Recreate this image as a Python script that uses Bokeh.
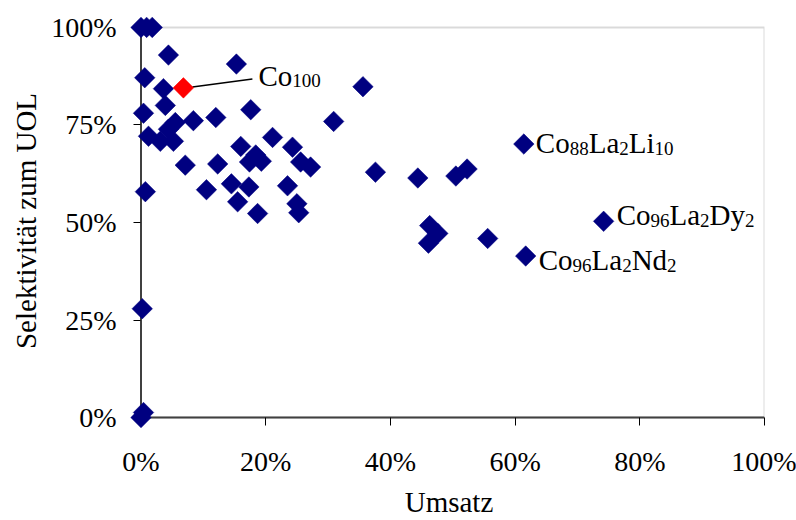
import numpy as np
from bokeh.plotting import figure
from bokeh.models import (Range1d, FixedTicker, NumeralTickFormatter, ColumnDataSource,
                          BoxAnnotation, Label, Arrow)
from bokeh.embed import file_html
from bokeh.resources import INLINE

# ---------------- data (percent) ----------------
umsatz = [0.0, 0.9, 1.8,
          4.4, 15.3,
          0.6, 3.6, 3.9, 0.4,
          5.5, 8.4, 12.0, 17.6,
          35.6, 30.9,
          1.2, 3.1, 5.2, 4.4,
          21.1, 24.3, 16.0,
          17.4, 18.4, 19.3,
          7.1, 12.3, 25.6, 27.2, 37.6,
          0.7, 10.5, 14.5, 17.3, 23.5,
          15.5, 18.7, 25.0, 25.3,
          0.2, 0.0, 0.4,
          44.4, 50.5, 52.3,
          46.3, 47.6, 46.1, 55.6,
          61.4, 74.2, 61.7]
selektivitaet = [100.0, 100.0, 100.0,
                 92.9, 90.6,
                 87.1, 84.3, 80.0, 78.0,
                 75.6, 76.1, 76.9, 78.9,
                 84.8, 75.9,
                 72.1, 70.8, 70.8, 73.9,
                 71.8, 69.3, 69.5,
                 65.5, 67.3, 65.7,
                 64.7, 65.0, 65.5, 64.2, 62.9,
                 57.9, 58.4, 59.9, 59.1, 59.4,
                 55.3, 52.3, 54.8, 52.5,
                 27.9, 0.0, 1.3,
                 61.4, 61.9, 63.7,
                 49.2, 47.2, 44.7, 45.9,
                 70.1, 50.3, 41.4]
co100_umsatz = [6.8]
co100_selektivitaet = [84.5]

x_ticks = [0, 20, 40, 60, 80, 100]
y_ticks = [0, 25, 50, 75, 100]

# labelled points: (umsatz, selektivitaet, formula parts)
label_umsatz = [61.4, 74.2, 61.7]
label_selektivitaet = [70.1, 50.3, 41.4]
label_parts = [
    [("Co", False), ("88", True), ("La", False), ("2", True), ("Li", False), ("10", True)],
    [("Co", False), ("96", True), ("La", False), ("2", True), ("Dy", False), ("2", True)],
    [("Co", False), ("96", True), ("La", False), ("2", True), ("Nd", False), ("2", True)],
]
co100_parts = [("Co", False), ("100", True)]

# ---------------- layout ----------------
FONT = "Liberation Serif"
W, H = 796, 520
BL, BR, BT, BB = 133, 32, 16, 91
UNIT_X = 623.5          # pixels for 100 %
UNIT_Y = 394.0
XPAD = (W - BL - BR) / UNIT_X - 1.0          # room left of 0 % for tick marks
YPAD_LO = 8.0 / UNIT_Y                        # room below 0 % for tick marks
YPAD_HI = (H - BT - BB) / UNIT_Y - 1.0 - YPAD_LO
NAVY = "#000080"

p = figure(width=W, height=H, output_backend="svg", toolbar_location=None,
           x_range=Range1d(-XPAD, 1.0), y_range=Range1d(-YPAD_LO, 1.0 + YPAD_HI),
           min_border_left=BL, min_border_right=BR, min_border_top=BT, min_border_bottom=BB,
           background_fill_color="white", border_fill_color="white")
p.outline_line_color = None
p.grid.visible = False

PX_X = (W - BL - BR) / (1.0 + XPAD)
PX_Y = (H - BT - BB) / (1.0 + YPAD_LO + YPAD_HI)

# plot area border (top / right gray) and axis lines (left / bottom dark)
p.add_layout(BoxAnnotation(left=0, right=1, bottom=0, top=1, fill_alpha=0,
                           line_color="#868686", line_width=2, level="underlay"))
p.add_layout(Arrow(end=None, x_start=0, y_start=0, x_end=1, y_end=0,
                   line_color="#404040", line_width=2, level="underlay"))
p.add_layout(Arrow(end=None, x_start=0, y_start=0, x_end=0, y_end=1,
                   line_color="#404040", line_width=2, level="underlay"))

for ax, ticks in ((p.xaxis[0], x_ticks), (p.yaxis[0], y_ticks)):
    ax.ticker = FixedTicker(ticks=[t / 100 for t in ticks])
    ax.formatter = NumeralTickFormatter(format="0%")
    ax.axis_line_color = None
    ax.major_tick_line_color = "black"
    ax.major_tick_line_width = 1
    ax.major_tick_out = 0
    ax.minor_tick_line_color = None
    ax.major_label_text_font = FONT
    ax.major_label_text_font_size = "28px"
    ax.major_label_text_color = "black"
    ax.axis_label_text_font = FONT
    ax.axis_label_text_font_size = "29px"
    ax.axis_label_text_font_style = "normal"
    ax.axis_label_text_color = "black"

p.xaxis.axis_label = "Umsatz"
p.yaxis.axis_label = "Selektivität zum UOL"
p.xaxis.major_tick_in = 8
p.yaxis.major_tick_in = 7
p.xaxis.major_label_standoff = 20
p.yaxis.major_label_standoff = 17
p.xaxis.axis_label_standoff = 6
p.yaxis.axis_label_standoff = 6

# ---------------- points ----------------
src = ColumnDataSource(data=dict(x=[v / 100 for v in umsatz], y=[v / 100 for v in selektivitaet]))
p.scatter(x="x", y="y", source=src, marker="square", angle=np.pi / 4, size=14.5,
          fill_color=NAVY, line_color=NAVY, line_width=0.5, level="overlay")
src_red = ColumnDataSource(data=dict(x=[v / 100 for v in co100_umsatz], y=[v / 100 for v in co100_selektivitaet]))
p.scatter(x="x", y="y", source=src_red, marker="square", angle=np.pi / 4, size=14.5,
          fill_color="#FF0000", line_color="#FF0000", line_width=0.5, level="overlay")

# ---------------- labels ----------------
MAIN, SUB = 29, 19
WIDTHS = {"C": .667, "o": .5, "L": .611, "a": .444, "i": .278, "D": .722, "y": .5, "N": .722, "d": .5}


def width_of(s, size):
    return sum(WIDTHS.get(ch, 0.5) for ch in s) * size


def add_formula(xd, yd, dx, dy, parts):
    off = dx
    for txt, sub in parts:
        size = SUB if sub else MAIN
        p.add_layout(Label(x=xd, y=yd, x_offset=off, y_offset=dy - (5 if sub else 0),
                           text=txt, text_font=FONT, text_font_size=f"{size}px",
                           text_baseline="alphabetic", text_align="left", text_color="black"))
        off += width_of(txt, size)


label_offsets = [(12, 1), (13, 6), (13, -4)]
for xv, yv, parts, (dx, dy) in zip(label_umsatz, label_selektivitaet, label_parts, label_offsets):
    add_formula(xv / 100, yv / 100, dx, dy, parts)

cx, cy = co100_umsatz[0] / 100, co100_selektivitaet[0] / 100
add_formula(cx, cy, 75, 12, co100_parts)
p.add_layout(Arrow(end=None, x_start=cx + 9 / PX_X, y_start=cy + 1 / PX_Y,
                   x_end=cx + 69 / PX_X, y_end=cy + 9 / PX_Y,
                   line_color="black", line_width=1.5))

open("out.html", "w").write(file_html(p, INLINE))
